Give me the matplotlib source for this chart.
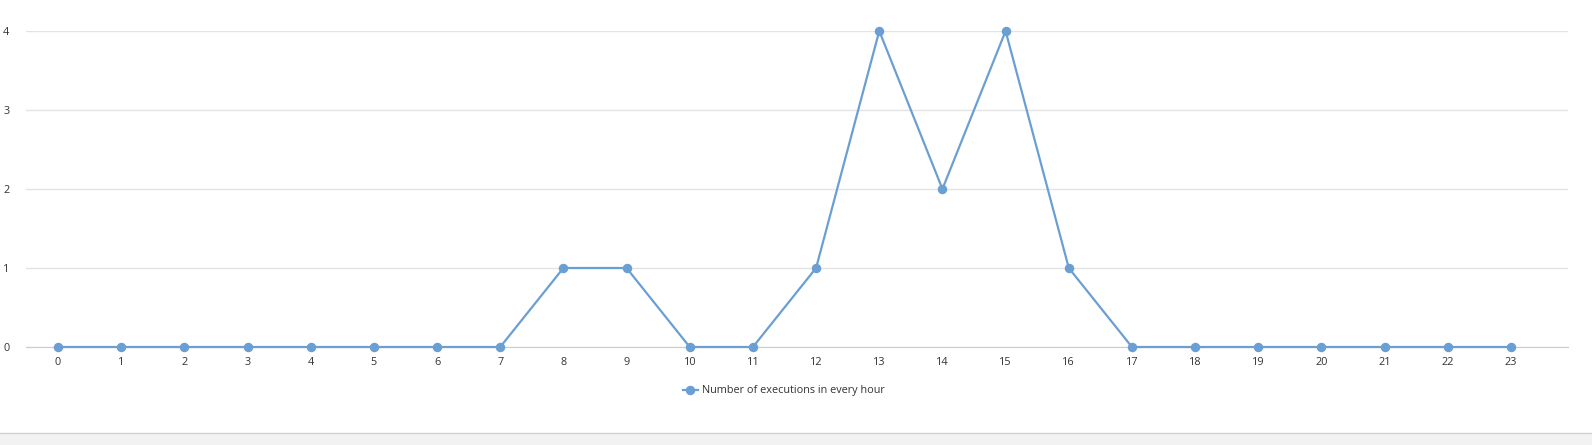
import matplotlib.pyplot as plt
from matplotlib.patches import Rectangle

# данные
hours = list(range(24))
executions = [0, 0, 0, 0, 0, 0, 0, 0, 1, 1, 0, 0, 1, 4, 2, 4, 1, 0, 0, 0, 0, 0, 0, 0]
label = 'Number of executions in every hour'

plt.rcParams['font.family'] = ['Open Sans', 'DejaVu Sans']

W, H = 1592, 445
fig = plt.figure(figsize=(W / 100, H / 100), dpi=100)
ax = fig.add_axes([26 / W, 1 - 347 / H, (1568 - 26) / W, (347 - 31) / H])

color = '#6a9fd4'
ax.plot(hours, executions, color=color, lw=1.6, marker='o', ms=5.8, label=label, zorder=3, clip_on=False)

# границы осей по пикселям
step = (1511 - 58) / 23
ax.set_xlim(-(58 - 26) / step, 23 + (1568 - 1511) / step)
ax.set_ylim(0, 4)
ax.set_xticks(hours)
ax.set_yticks([0, 1, 2, 3, 4])

ax.grid(axis='y', color='#e3e3e3', lw=1)
ax.set_axisbelow(True)
for s in ['top', 'right', 'left']:
    ax.spines[s].set_visible(False)
ax.spines['bottom'].set_color('#cccccc')
ax.tick_params(axis='both', length=0, labelsize=7.8, colors='#333333')
ax.tick_params(axis='x', pad=7)
ax.tick_params(axis='y', pad=12)

leg = fig.legend(loc='center', bbox_to_anchor=(784 / W, 1 - 391 / H), frameon=False,
                 fontsize=7.8, handlelength=1.4, handletextpad=0.4, labelcolor='#333333')

# серая полоса внизу
fig.patches.append(Rectangle((0, 0), 1, 12 / H, transform=fig.transFigure,
                             facecolor='#f2f2f2', edgecolor='none'))
fig.lines.append(plt.Line2D([0, 1], [12 / H, 12 / H], transform=fig.transFigure,
                            color='#d0d0d0', lw=1))

fig.savefig('out.png', dpi=100)
